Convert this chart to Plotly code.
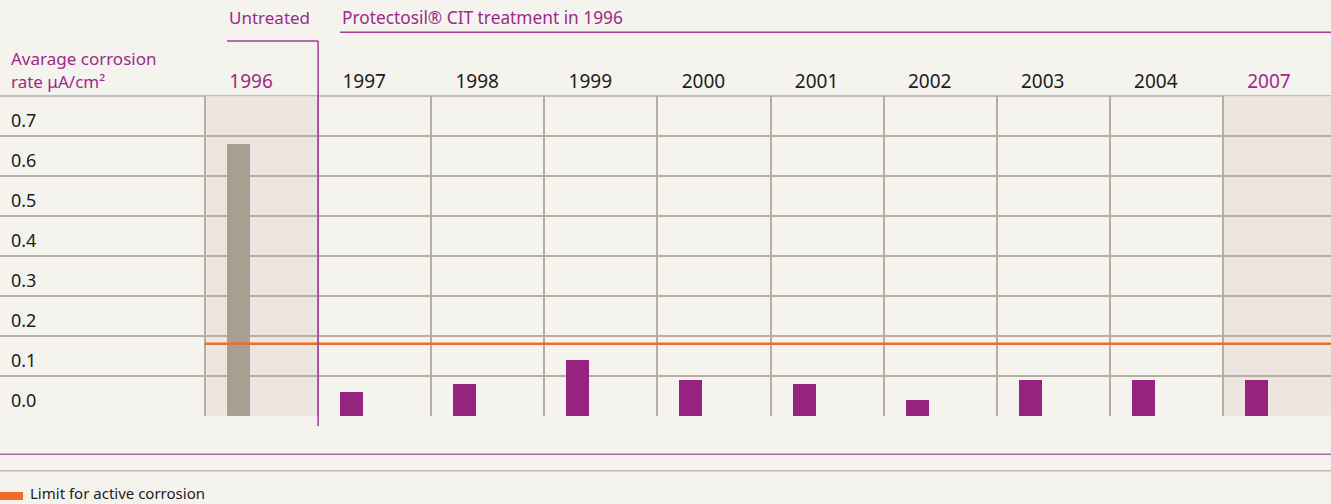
import plotly.graph_objects as go

# ---- data ----
years = ["1996", "1997", "1998", "1999", "2000", "2001", "2002", "2003", "2004", "2007"]
corrosion_rate = [0.68, 0.06, 0.08, 0.14, 0.09, 0.08, 0.04, 0.09, 0.09, 0.09]
limit_active = 0.18
y_labels = ["0.0", "0.1", "0.2", "0.3", "0.4", "0.5", "0.6", "0.7"]
y_levels = [0.0, 0.1, 0.2, 0.3, 0.4, 0.5, 0.6, 0.7]

# ---- style ----
BG = "#f5f3ee"
SHADE = "#ede5df"
GRID = "#b6aea3"
PURPLE = "#96237f"
PURPLE_LINE = "#a53a99"
PURPLE_TEXT = "#9b2a8b"
GREY_BAR = "#a89e91"
ORANGE = "#ee6c2c"
DARK = "#1c1c1c"
FONT = "Noto Sans"

xs = list(range(len(years)))
bar_offset = -0.3055
bar_width = 0.2034
colors = [GREY_BAR] + [PURPLE] * (len(years) - 1)
highlight = {"1996", "2007"}

fig = go.Figure()

fig.add_trace(go.Bar(
    x=xs, y=corrosion_rate, marker_color=colors, marker_line_width=0,
    width=bar_width, offset=bar_offset, showlegend=False,
))

fig.add_trace(go.Scatter(
    x=[-0.5, 9.46], y=[limit_active, limit_active], mode="lines",
    line=dict(color=ORANGE, width=2.5), showlegend=False,
))

ticktext = [
    (f"<span style='color:{PURPLE_TEXT}'>{y}</span>" if y in highlight else y)
    for y in years
]

fig.update_layout(
    width=1331, height=504,
    margin=dict(l=0, r=0, t=96, b=88),
    paper_bgcolor=BG, plot_bgcolor=BG,
    font=dict(family=FONT, color=DARK, size=18),
    bargap=0,
    xaxis=dict(
        range=[-2.3126, 9.4558], side="top",
        tickvals=[x - 0.093 for x in xs], ticktext=ticktext,
        ticks="", showgrid=False, zeroline=False, showline=False,
        tickfont=dict(size=19, color=DARK),
        ticklabelstandoff=3,
        minor=dict(tickvals=[x - 0.5 for x in xs], showgrid=True,
                   gridcolor=GRID, gridwidth=1.5, ticks=""),
    ),
    yaxis=dict(
        range=[-0.0006, 0.8006], tickvals=[v + 0.038 for v in y_levels], ticktext=y_labels,
        ticks="", showgrid=False, zeroline=False, showline=False,
        ticklabelposition="inside", ticklabelstandoff=8,
        tickfont=dict(size=18, color=DARK),
        minor=dict(tickvals=[round(v, 1) for v in y_levels], showgrid=True,
                   gridcolor=GRID, gridwidth=1.5, ticks=""),
    ),
)

# top border of the grid
fig.add_shape(type="line", xref="paper", yref="paper", x0=0, x1=1, y0=1, y1=1,
              line=dict(color=GRID, width=1.5), layer="below")

# shaded columns (untreated 1996 and 2007)
for cx in (0, 9):
    fig.add_shape(type="rect", xref="x", yref="y", x0=cx - 0.5, x1=cx + 0.5,
                  y0=0, y1=0.8, fillcolor=SHADE, line_width=0, layer="below")

# purple separators
fig.add_shape(type="line", xref="x", yref="paper", x0=0.5, x1=0.5,
              y0=-0.031, y1=1.172, line=dict(color=PURPLE_LINE, width=1.5))
fig.add_shape(type="line", xref="x", yref="paper", x0=bar_offset, x1=0.5,
              y0=1.172, y1=1.172, line=dict(color=PURPLE_LINE, width=1.5))
fig.add_shape(type="line", xref="x", yref="paper", x0=1 + bar_offset, x1=9.46,
              y0=1.199, y1=1.199, line=dict(color=PURPLE_LINE, width=1.5))
fig.add_shape(type="line", xref="paper", yref="paper", x0=0, x1=1,
              y0=-0.1197, y1=-0.1197, line=dict(color="#b466a9", width=1.5))
fig.add_shape(type="line", xref="paper", yref="paper", x0=0, x1=1,
              y0=-0.171, y1=-0.171, line=dict(color="#c2bab0", width=1.5))

# header texts
fig.add_annotation(text="Untreated", xref="x", yref="paper", x=bar_offset, y=1.244,
                   xanchor="left", yanchor="middle", showarrow=False,
                   font=dict(size=17, color=PURPLE_TEXT))
fig.add_annotation(text="Protectosil® CIT treatment in 1996", xref="x", yref="paper",
                   x=1 + bar_offset, y=1.244, xanchor="left", yanchor="middle",
                   showarrow=False, font=dict(size=17.3, color=PURPLE_TEXT))
fig.add_annotation(text="Avarage corrosion", xref="paper", yref="paper",
                   x=0.007, y=(416 - 58) / 320, xanchor="left", yanchor="middle",
                   showarrow=False, font=dict(size=17, color=PURPLE_TEXT))
fig.add_annotation(text="rate μA/cm²", xref="paper", yref="paper",
                   x=0.007, y=(416 - 81) / 320, xanchor="left", yanchor="middle",
                   showarrow=False, font=dict(size=17, color=PURPLE_TEXT))

# legend swatch + label
fig.add_shape(type="rect", xref="paper", yref="paper", x0=0, x1=23 / 1331,
              y0=(416 - 500) / 320, y1=(416 - 492) / 320, fillcolor=ORANGE, line_width=0)
fig.add_annotation(text="Limit for active corrosion", xref="paper", yref="paper",
                   x=28 / 1331, y=(416 - 493) / 320, xanchor="left", yanchor="middle",
                   showarrow=False, font=dict(size=15, color=DARK))

fig.write_html("out.html", config={"displayModeBar": False},
               post_script="document.body.style.margin='0';")
